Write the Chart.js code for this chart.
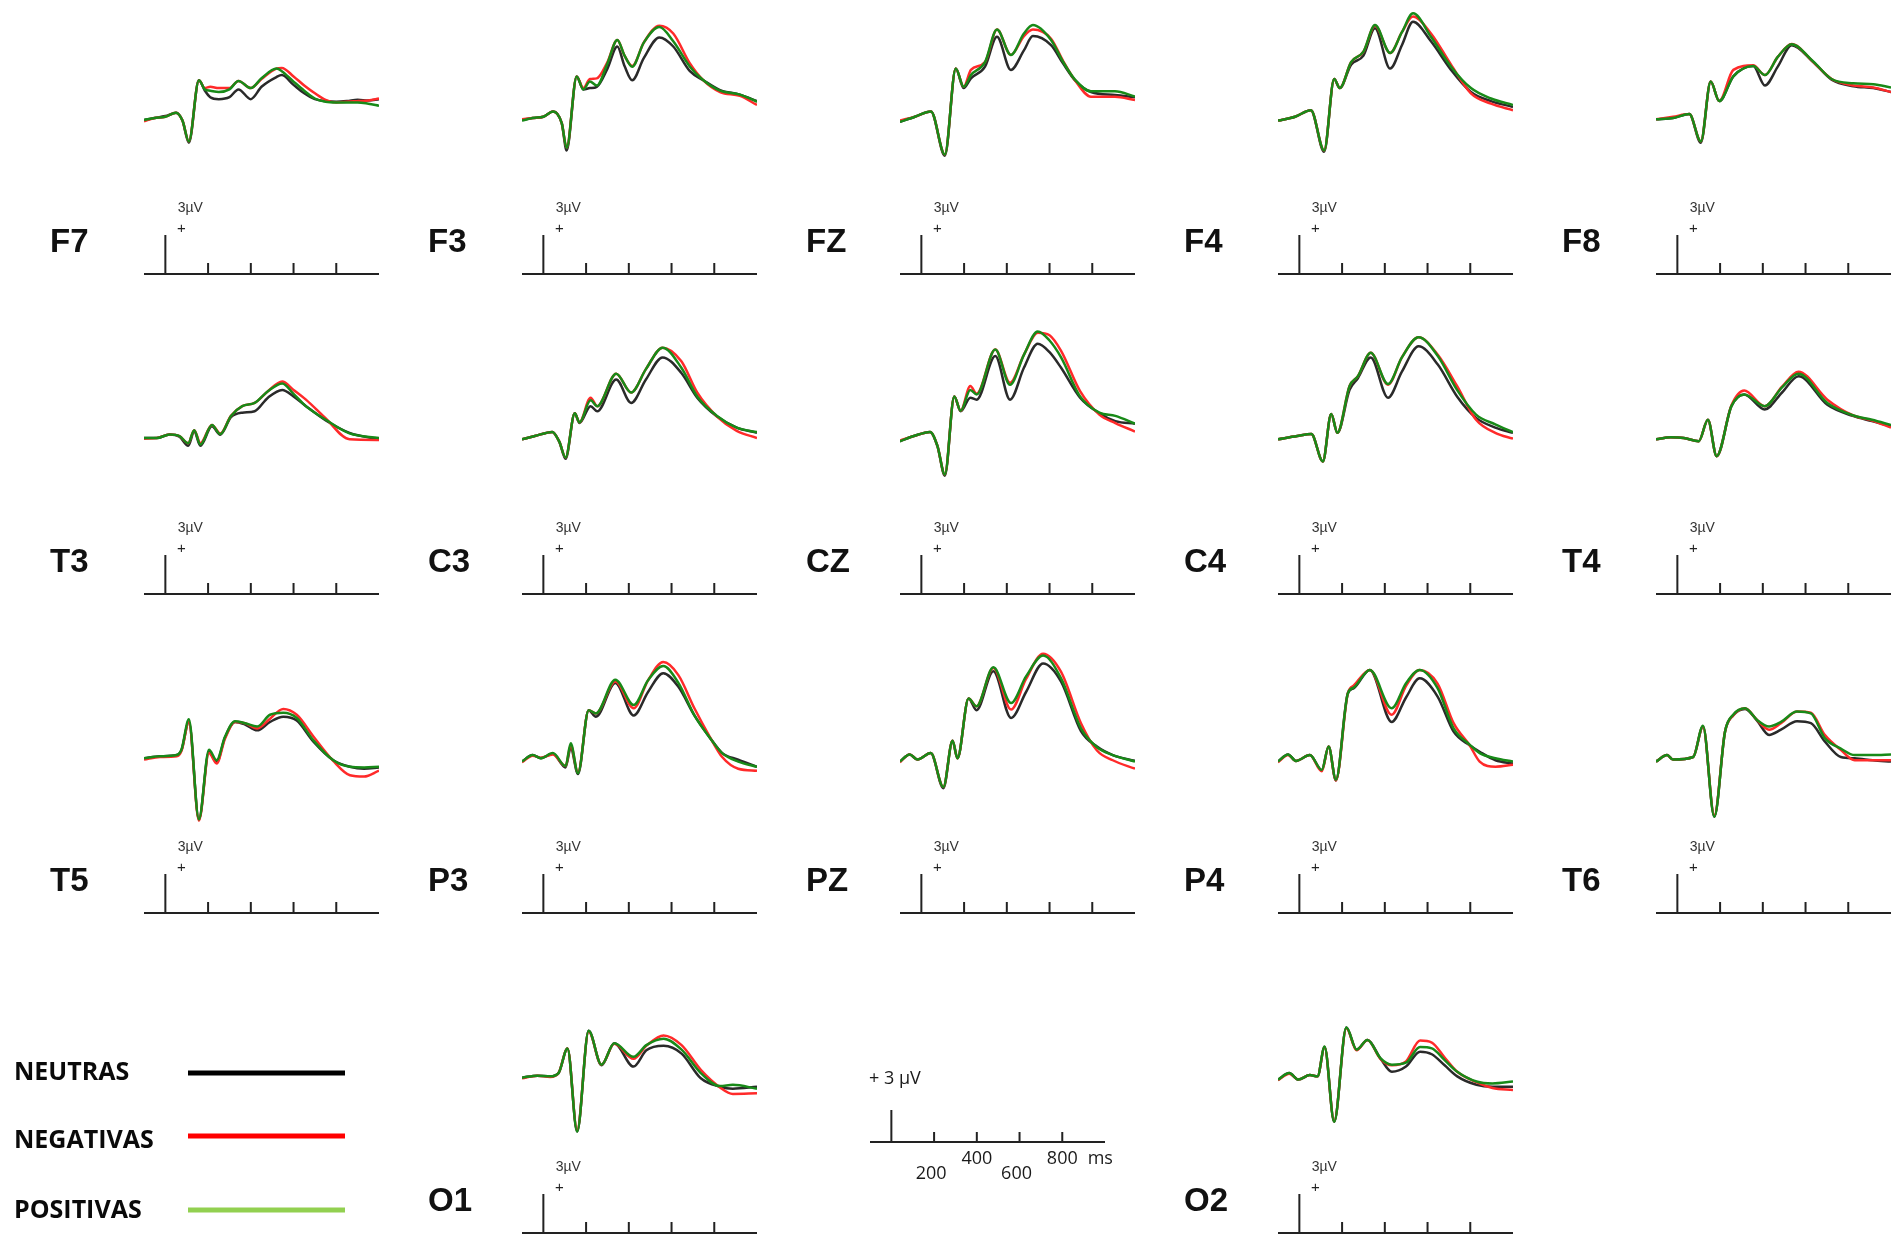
<!DOCTYPE html>
<html>
<head>
<meta charset="utf-8">
<title>ERP por condición</title>
<script src="https://cdn.jsdelivr.net/npm/chart.js@4.4.1/dist/chart.umd.min.js"></script>
<style>
  html, body { margin: 0; padding: 0; background: #fff; }
  body { position: relative; width: 1896px; height: 1237px; overflow: hidden; }
  canvas { position: absolute; }
</style>
</head>
<body>
<script>
// Grand-average waveforms (µV) per electrode; time in ms relative to stimulus onset.
const F7_ms        = [-100, -50, 0, 50, 80, 110, 157, 185, 210, 250, 300, 342, 400, 450, 520, 545, 600, 650, 700, 750, 800, 850, 900, 950, 1000];
const F7_neutras   = [-0.15, 0.0, 0.15, 0.4, -0.2, -1.9, 2.9, 2.1, 1.6, 1.45, 1.6, 2.2, 1.45, 2.4, 3.15, 3.3, 2.55, 1.9, 1.45, 1.3, 1.25, 1.3, 1.4, 1.35, 1.45];
const F7_negativas = [-0.25, 0.0, 0.1, 0.4, -0.2, -1.8, 2.9, 2.3, 2.4, 2.3, 2.3, 2.85, 2.3, 3.0, 3.8, 3.85, 3.2, 2.5, 1.9, 1.4, 1.2, 1.25, 1.3, 1.35, 1.5];
const F7_positivas = [-0.15, 0.0, 0.1, 0.4, -0.2, -1.8, 2.9, 2.2, 2.1, 2.0, 2.2, 2.85, 2.3, 3.05, 3.8, 3.6, 2.8, 2.1, 1.5, 1.25, 1.2, 1.2, 1.2, 1.1, 0.95];

const F3_ms        = [-100, -50, 0, 46, 86, 109, 156, 187, 218, 250, 300, 346, 380, 416, 470, 543, 608, 686, 749, 827, 920, 1000];
const F3_neutras   = [-0.15, 0.0, 0.1, 0.5, -0.4, -2.5, 3.2, 2.2, 2.3, 2.4, 3.8, 5.5, 4.0, 2.9, 4.6, 6.2, 5.5, 3.6, 2.9, 2.15, 1.8, 1.3];
const F3_negativas = [-0.1, 0.0, 0.1, 0.5, -0.4, -2.3, 3.2, 2.3, 3.0, 3.05, 4.3, 6.0, 4.8, 4.0, 5.8, 7.1, 6.5, 4.2, 2.9, 2.0, 1.7, 1.0];
const F3_positivas = [-0.2, 0.0, 0.1, 0.5, -0.4, -2.3, 3.2, 2.2, 2.8, 2.5, 4.2, 6.0, 4.8, 3.95, 5.8, 7.0, 5.9, 3.95, 2.9, 2.1, 1.8, 1.25];

const FZ_ms        = [-100, -30, 45, 110, 161, 198, 232, 298, 354, 419, 480, 522, 607, 663, 719, 794, 906, 1000];
const FZ_neutras   = [-0.3, 0.1, 0.5, -2.9, 3.8, 2.3, 3.05, 3.95, 6.25, 3.7, 5.2, 6.3, 5.6, 4.2, 2.9, 2.0, 1.77, 1.6];
const FZ_negativas = [-0.2, 0.1, 0.5, -2.8, 3.8, 2.4, 3.7, 4.3, 6.8, 4.85, 6.3, 6.8, 6.1, 4.4, 2.9, 1.64, 1.64, 1.38];
const FZ_positivas = [-0.3, 0.1, 0.5, -2.8, 3.8, 2.4, 3.3, 4.3, 6.8, 4.85, 6.5, 7.15, 6.0, 4.33, 2.95, 2.05, 2.05, 1.65];

const F4_ms        = [-100, -20, 54, 116, 163, 189, 242, 300, 354, 425, 480, 532, 616, 710, 803, 897, 1000];
const F4_neutras   = [-0.2, 0.1, 0.6, -2.6, 3.0, 2.3, 4.1, 4.8, 6.9, 3.8, 5.6, 7.4, 5.9, 3.7, 2.0, 1.3, 0.85];
const F4_negativas = [-0.2, 0.1, 0.6, -2.5, 3.0, 2.3, 4.3, 5.1, 7.1, 5.0, 6.6, 7.8, 6.5, 4.1, 1.9, 1.1, 0.6];
const F4_positivas = [-0.2, 0.1, 0.6, -2.5, 3.0, 2.3, 4.3, 5.1, 7.15, 5.0, 6.6, 8.05, 6.25, 3.95, 2.3, 1.5, 1.0];

const F8_ms        = [-100, -20, 56, 110, 156, 196, 262, 355, 410, 470, 535, 636, 722, 824, 917, 1000];
const F8_neutras   = [-0.1, 0.0, 0.3, -1.9, 2.8, 1.3, 3.2, 4.0, 2.5, 3.95, 5.6, 4.3, 2.95, 2.45, 2.3, 2.0];
const F8_negativas = [-0.1, 0.1, 0.3, -1.8, 2.8, 1.3, 3.7, 4.05, 3.3, 4.7, 5.7, 4.3, 3.0, 2.5, 2.35, 2.0];
const F8_positivas = [-0.1, 0.0, 0.3, -1.8, 2.8, 1.3, 3.2, 4.0, 3.3, 4.7, 5.67, 4.35, 3.0, 2.67, 2.6, 2.35];

const T3_ms        = [-100, -40, 20, 66, 107, 135, 164, 218, 257, 307, 360, 418, 480, 547, 600, 658, 751, 862, 1000];
const T3_neutras   = [0.0, 0.0, 0.27, 0.1, -0.6, 0.5, -0.6, 0.9, 0.25, 1.6, 1.95, 2.06, 3.1, 3.7, 3.2, 2.45, 1.35, 0.4, -0.1];
const T3_negativas = [-0.05, 0.0, 0.27, 0.15, -0.4, 0.6, -0.4, 1.0, 0.35, 1.7, 2.45, 2.7, 3.6, 4.35, 3.7, 2.95, 1.5, -0.1, -0.15];
const T3_positivas = [0.0, 0.0, 0.27, 0.15, -0.4, 0.6, -0.5, 1.0, 0.3, 1.7, 2.45, 2.7, 3.6, 4.2, 3.4, 2.45, 1.4, 0.35, 0.0];

const C3_ms        = [-100, -40, 42, 75, 104, 147, 169, 221, 252, 341, 411, 480, 558, 646, 720, 813, 905, 1000];
const C3_neutras   = [-0.1, 0.15, 0.47, -0.3, -1.6, 1.9, 1.15, 2.45, 2.05, 4.5, 2.7, 4.5, 6.2, 5.0, 3.1, 1.65, 0.8, 0.4];
const C3_negativas = [-0.1, 0.15, 0.47, -0.3, -1.5, 1.9, 1.2, 3.1, 2.45, 4.95, 3.5, 5.3, 6.95, 5.9, 3.5, 1.65, 0.55, 0.0];
const C3_positivas = [-0.1, 0.15, 0.47, -0.3, -1.5, 1.9, 1.2, 2.9, 2.45, 4.95, 3.5, 5.3, 6.95, 5.4, 3.2, 1.7, 0.8, 0.45];

const CZ_ms        = [-100, -35, 41, 75, 110, 154, 184, 229, 259, 346, 415, 480, 545, 600, 654, 743, 833, 908, 1000];
const CZ_neutras   = [-0.25, 0.15, 0.47, -0.6, -2.9, 3.2, 2.05, 3.1, 2.95, 6.3, 2.95, 5.4, 7.25, 6.6, 5.4, 3.1, 1.9, 1.3, 1.1];
const CZ_negativas = [-0.2, 0.15, 0.47, -0.6, -2.8, 3.2, 2.1, 4.0, 3.4, 6.8, 4.25, 6.4, 8.1, 7.9, 6.7, 3.6, 1.8, 1.15, 0.5];
const CZ_positivas = [-0.25, 0.15, 0.47, -0.6, -2.8, 3.2, 2.1, 3.7, 3.35, 6.8, 4.1, 6.4, 8.2, 7.5, 6.2, 3.2, 1.95, 1.7, 1.1];

const C4_ms        = [-100, -10, 56, 110, 149, 178, 235, 274, 334, 415, 480, 558, 648, 738, 827, 917, 1000];
const C4_neutras   = [-0.1, 0.15, 0.3, -1.8, 1.85, 0.4, 3.7, 4.6, 6.2, 3.1, 5.1, 7.05, 5.65, 3.2, 1.55, 0.8, 0.4];
const C4_negativas = [-0.1, 0.15, 0.3, -1.8, 1.85, 0.4, 4.0, 4.75, 6.55, 4.1, 6.2, 7.75, 6.4, 4.0, 1.4, 0.4, -0.05];
const C4_positivas = [-0.1, 0.15, 0.3, -1.8, 1.85, 0.4, 4.0, 4.75, 6.55, 4.15, 6.2, 7.75, 6.3, 3.7, 1.8, 1.05, 0.45];

const T4_ms        = [-100, -30, 30, 100, 143, 184, 253, 313, 409, 490, 567, 702, 821, 911, 1000];
const T4_neutras   = [-0.1, 0.05, 0.0, -0.25, 1.4, -1.4, 2.45, 3.35, 2.2, 3.5, 4.75, 2.55, 1.7, 1.3, 0.9];
const T4_negativas = [-0.1, 0.05, 0.0, -0.25, 1.4, -1.4, 2.5, 3.65, 2.45, 3.95, 5.1, 2.95, 1.75, 1.35, 0.8];
const T4_positivas = [-0.1, 0.05, 0.0, -0.25, 1.4, -1.4, 2.45, 3.35, 2.45, 3.9, 4.95, 2.7, 1.75, 1.4, 1.0];

const T5_ms        = [-100, -25, 53, 76, 110, 157, 204, 240, 279, 326, 373, 430, 490, 552, 615, 692, 786, 864, 930, 1000];
const T5_neutras   = [-0.1, 0.05, 0.15, 0.55, 2.7, -4.8, 0.4, -0.4, 1.5, 2.7, 2.5, 2.05, 2.7, 3.1, 2.8, 1.2, -0.25, -0.75, -0.9, -0.8];
const T5_negativas = [-0.2, 0.0, 0.05, 0.5, 2.7, -4.9, 0.3, -0.5, 1.4, 2.7, 2.6, 2.2, 2.95, 3.7, 3.25, 1.6, -0.3, -1.4, -1.5, -1.05];
const T5_positivas = [-0.1, 0.05, 0.15, 0.6, 2.9, -4.8, 0.55, -0.25, 1.55, 2.75, 2.6, 2.35, 3.25, 3.4, 3.0, 1.3, -0.25, -0.75, -0.8, -0.75];

const P3_ms        = [-100, -50, -12, 44, 104, 128, 162, 212, 246, 337, 423, 490, 561, 632, 707, 781, 837, 912, 1000];
const P3_neutras   = [-0.35, 0.15, -0.1, 0.25, -0.8, 0.7, -1.3, 3.6, 3.1, 5.7, 3.2, 5.0, 6.45, 5.4, 3.2, 1.45, 0.3, -0.2, -0.75];
const P3_negativas = [-0.4, 0.1, -0.05, 0.2, -0.7, 0.9, -1.2, 3.6, 3.35, 5.8, 3.75, 5.9, 7.3, 6.3, 3.75, 1.5, 0.0, -0.9, -1.05];
const P3_positivas = [-0.35, 0.15, -0.1, 0.3, -0.7, 1.05, -1.25, 3.6, 3.35, 5.95, 4.0, 5.9, 7.0, 5.7, 3.2, 1.45, 0.3, -0.35, -0.75];

const PZ_ms        = [-100, -55, -18, 44, 103, 146, 169, 221, 258, 337, 420, 490, 570, 654, 747, 822, 896, 1000];
const PZ_neutras   = [-0.35, 0.2, -0.2, 0.3, -2.4, 1.25, -0.1, 4.5, 3.6, 6.6, 3.0, 5.0, 7.2, 5.8, 2.0, 0.8, 0.15, -0.3];
const PZ_negativas = [-0.4, 0.2, -0.2, 0.3, -2.3, 1.25, -0.1, 4.5, 3.9, 6.85, 3.65, 6.0, 7.95, 6.55, 2.6, 0.5, -0.25, -0.9];
const PZ_positivas = [-0.35, 0.2, -0.2, 0.3, -2.3, 1.25, -0.1, 4.5, 3.9, 6.9, 4.15, 6.2, 7.8, 6.05, 2.2, 0.75, 0.15, -0.35];

const P4_ms        = [-100, -53, -16, 49, 105, 137, 171, 227, 255, 330, 432, 500, 563, 647, 722, 797, 844, 918, 1000];
const P4_neutras   = [-0.35, 0.2, -0.3, 0.15, -1.0, 0.8, -1.8, 4.9, 5.3, 6.7, 2.7, 4.6, 6.05, 4.65, 1.95, 0.9, 0.4, -0.25, -0.5];
const P4_negativas = [-0.4, 0.15, -0.3, 0.15, -1.1, 0.8, -1.8, 4.9, 5.5, 6.7, 3.25, 5.5, 6.7, 5.65, 2.6, 0.9, -0.35, -0.75, -0.6];
const P4_positivas = [-0.35, 0.2, -0.3, 0.15, -1.0, 0.8, -1.75, 4.9, 5.35, 6.7, 3.75, 5.7, 6.7, 5.3, 2.2, 0.95, 0.3, -0.1, -0.35];

const T6_ms        = [-100, -48, -20, 74, 120, 173, 223, 261, 317, 373, 429, 485, 560, 625, 690, 765, 830, 915, 1000];
const T6_neutras   = [-0.35, 0.15, -0.2, 0.0, 2.35, -4.6, 1.95, 3.2, 3.7, 2.8, 1.7, 2.1, 2.75, 2.6, 1.2, 0.0, -0.1, -0.25, -0.35];
const T6_negativas = [-0.35, 0.15, -0.2, 0.0, 2.35, -4.5, 1.95, 3.2, 3.75, 2.85, 2.1, 2.6, 3.5, 3.4, 1.7, 0.55, -0.25, -0.25, -0.25];
const T6_positivas = [-0.35, 0.15, -0.2, 0.0, 2.4, -4.6, 1.95, 3.25, 3.75, 2.85, 2.35, 2.7, 3.5, 3.35, 1.45, 0.65, 0.15, 0.15, 0.2];

const O1_ms        = [-100, -28, 32, 71, 113, 158, 212, 272, 332, 422, 482, 563, 647, 737, 827, 887, 1000];
const O1_neutras   = [-0.05, 0.1, 0.05, 0.3, 2.2, -4.2, 3.55, 0.9, 2.6, 0.8, 2.05, 2.4, 1.8, -0.1, -0.75, -0.9, -0.75];
const O1_negativas = [-0.1, 0.1, 0.0, 0.3, 2.2, -4.1, 3.5, 0.95, 2.55, 1.4, 2.4, 3.2, 2.45, 0.55, -0.8, -1.3, -1.25];
const O1_positivas = [-0.05, 0.1, 0.05, 0.3, 2.2, -4.2, 3.55, 0.95, 2.6, 1.55, 2.45, 2.95, 2.1, 0.3, -0.7, -0.6, -0.9];

const O2_ms        = [-100, -47, -5, 49, 85, 118, 163, 220, 268, 319, 379, 433, 499, 565, 620, 680, 739, 829, 904, 1000];
const O2_neutras   = [-0.2, 0.3, -0.2, 0.15, 0.05, 2.3, -3.45, 3.8, 2.1, 2.85, 1.45, 0.4, 0.8, 1.95, 1.75, 0.9, 0.05, -0.6, -0.75, -0.75];
const O2_negativas = [-0.25, 0.25, -0.2, 0.15, 0.05, 2.3, -3.4, 3.75, 2.05, 2.85, 1.4, 0.9, 1.2, 2.8, 2.65, 1.5, 0.4, -0.4, -0.85, -1.0];
const O2_positivas = [-0.2, 0.3, -0.2, 0.15, 0.05, 2.35, -3.45, 3.8, 2.1, 2.85, 1.45, 0.95, 1.1, 2.3, 2.2, 1.3, 0.4, -0.35, -0.5, -0.35];

// Conditions and calibration marks
const conditionNames  = ['NEUTRAS', 'NEGATIVAS', 'POSITIVAS'];
const timeTicks       = [200, 400, 600, 800];
const calibrationUV   = 3;
const calibrationText = '3\u00b5V';
const scaleBarText    = '+ 3 \u00b5V';
const scaleBarUnit    = 'ms';

// Layout of the montage (grid column / row of each electrode)
const electrodes = [
  { name: 'F7', col: 0, row: 0, ms: F7_ms, v: [F7_neutras, F7_negativas, F7_positivas] },
  { name: 'F3', col: 1, row: 0, ms: F3_ms, v: [F3_neutras, F3_negativas, F3_positivas] },
  { name: 'FZ', col: 2, row: 0, ms: FZ_ms, v: [FZ_neutras, FZ_negativas, FZ_positivas] },
  { name: 'F4', col: 3, row: 0, ms: F4_ms, v: [F4_neutras, F4_negativas, F4_positivas] },
  { name: 'F8', col: 4, row: 0, ms: F8_ms, v: [F8_neutras, F8_negativas, F8_positivas] },
  { name: 'T3', col: 0, row: 1, ms: T3_ms, v: [T3_neutras, T3_negativas, T3_positivas] },
  { name: 'C3', col: 1, row: 1, ms: C3_ms, v: [C3_neutras, C3_negativas, C3_positivas] },
  { name: 'CZ', col: 2, row: 1, ms: CZ_ms, v: [CZ_neutras, CZ_negativas, CZ_positivas] },
  { name: 'C4', col: 3, row: 1, ms: C4_ms, v: [C4_neutras, C4_negativas, C4_positivas] },
  { name: 'T4', col: 4, row: 1, ms: T4_ms, v: [T4_neutras, T4_negativas, T4_positivas] },
  { name: 'T5', col: 0, row: 2, ms: T5_ms, v: [T5_neutras, T5_negativas, T5_positivas] },
  { name: 'P3', col: 1, row: 2, ms: P3_ms, v: [P3_neutras, P3_negativas, P3_positivas] },
  { name: 'PZ', col: 2, row: 2, ms: PZ_ms, v: [PZ_neutras, PZ_negativas, PZ_positivas] },
  { name: 'P4', col: 3, row: 2, ms: P4_ms, v: [P4_neutras, P4_negativas, P4_positivas] },
  { name: 'T6', col: 4, row: 2, ms: T6_ms, v: [T6_neutras, T6_negativas, T6_positivas] },
  { name: 'O1', col: 1, row: 3, ms: O1_ms, v: [O1_neutras, O1_negativas, O1_positivas] },
  { name: 'O2', col: 3, row: 3, ms: O2_ms, v: [O2_neutras, O2_negativas, O2_positivas] }
];

// ---- styling / geometry ----
const TRACE_COLORS  = ['#2a2a2a', '#ff2a2a', '#188a18'];
const LEGEND_COLORS = ['#000000', '#ff0000', '#92d050'];
const TRACE_ORDER   = [2, 1, 0];           // green on top, then red, then black
const COL_LEFT      = [144, 522, 900, 1278, 1656];
const ROW_AXIS      = [274, 594, 913, 1233];
const X_MIN = -100, X_MAX = 1000;
const Y_MIN = -12, Y_MAX = 9;
const PX_PER_UV = 13;
const PLOT_W = 235;
const PLOT_H = (Y_MAX - Y_MIN) * PX_PER_UV;
const PAD = { left: 104, right: 6, top: 4, bottom: 8 };
const AXIS_COLOR = '#222';

Chart.defaults.animation = false;

// Draws the time axis, the calibration bar, the ticks and the electrode name
const panelFrame = {
  id: 'panelFrame',
  afterDatasetsDraw(chart, args, opts) {
    const { ctx, scales: { x, y } } = chart;
    const y0 = y.getPixelForValue(Y_MIN);
    const xb = x.getPixelForValue(0);
    ctx.save();
    ctx.strokeStyle = AXIS_COLOR;
    ctx.lineWidth = 2;
    ctx.beginPath();
    ctx.moveTo(x.getPixelForValue(X_MIN), y0);
    ctx.lineTo(x.getPixelForValue(X_MAX), y0);
    ctx.moveTo(xb, y0);
    ctx.lineTo(xb, y.getPixelForValue(Y_MIN + calibrationUV));
    timeTicks.forEach(t => {
      const xt = x.getPixelForValue(t);
      ctx.moveTo(xt, y0);
      ctx.lineTo(xt, y0 - 11);
    });
    ctx.stroke();

    ctx.fillStyle = '#333';
    ctx.textAlign = 'center';
    ctx.textBaseline = 'alphabetic';
    ctx.font = '14px "Liberation Sans", Arial, sans-serif';
    ctx.fillText(calibrationText, xb + 25, y0 - 62);
    ctx.font = '15px "Liberation Sans", Arial, sans-serif';
    ctx.textBaseline = 'middle';
    ctx.fillStyle = '#222';
    ctx.fillText('+', xb + 16, y0 - 45);

    ctx.fillStyle = '#111';
    ctx.textAlign = 'left';
    ctx.textBaseline = 'alphabetic';
    ctx.font = 'bold 33px "Liberation Sans", Arial, sans-serif';
    ctx.fillText(opts.label, 10, y0 - 22);
    ctx.restore();
  }
};

function makeCanvas(left, top, w, h) {
  const c = document.createElement('canvas');
  c.width = w; c.height = h;
  c.style.left = left + 'px';
  c.style.top = top + 'px';
  c.style.width = w + 'px';
  c.style.height = h + 'px';
  document.body.appendChild(c);
  return c;
}

electrodes.forEach(e => {
  const axisY = ROW_AXIS[e.row];
  const left = COL_LEFT[e.col] - PAD.left;
  const top = axisY - PLOT_H - PAD.top;
  const canvas = makeCanvas(left, top, PAD.left + PLOT_W + PAD.right, PAD.top + PLOT_H + PAD.bottom);
  new Chart(canvas, {
    type: 'line',
    data: {
      datasets: conditionNames.map((name, k) => ({
        label: name,
        data: e.ms.map((t, i) => ({ x: t, y: e.v[k][i] })),
        borderColor: TRACE_COLORS[k],
        order: TRACE_ORDER[k]
      }))
    },
    options: {
      responsive: false,
      events: [],
      layout: { padding: PAD },
      elements: {
        point: { radius: 0 },
        line: { borderWidth: 2.5, cubicInterpolationMode: 'monotone', fill: false }
      },
      plugins: {
        legend: { display: false },
        tooltip: { enabled: false },
        panelFrame: { label: e.name }
      },
      scales: {
        x: { type: 'linear', min: X_MIN, max: X_MAX, display: false },
        y: { type: 'linear', min: Y_MIN, max: Y_MAX, display: false }
      }
    },
    plugins: [panelFrame]
  });
});

// ---- stand-alone time / amplitude scale ----
const SCALE_AXIS_Y = 1142, SCALE_LEFT = 870;
const SCALE_PX_PER_UV = 32 / calibrationUV;
const SCALE_H = 9 * SCALE_PX_PER_UV;
const SPAD = { left: 4, right: 20, top: 4, bottom: 45 };

const scaleFrame = {
  id: 'scaleFrame',
  afterDraw(chart) {
    const { ctx, scales: { x, y } } = chart;
    const y0 = y.getPixelForValue(0);
    const xb = x.getPixelForValue(0);
    ctx.save();
    ctx.strokeStyle = AXIS_COLOR;
    ctx.lineWidth = 2;
    ctx.beginPath();
    ctx.moveTo(x.getPixelForValue(X_MIN), y0);
    ctx.lineTo(x.getPixelForValue(X_MAX), y0);
    ctx.moveTo(xb, y0);
    ctx.lineTo(xb, y.getPixelForValue(calibrationUV));
    timeTicks.forEach(t => {
      const xt = x.getPixelForValue(t);
      ctx.moveTo(xt, y0);
      ctx.lineTo(xt, y0 - 10);
    });
    ctx.stroke();

    ctx.fillStyle = '#1a1a1a';
    ctx.font = '18px "Open Sans", "Liberation Sans", sans-serif';
    ctx.textBaseline = 'alphabetic';
    ctx.textAlign = 'left';
    ctx.fillText(scaleBarText, x.getPixelForValue(X_MIN) - 1, y0 - 58);
    ctx.textAlign = 'center';
    timeTicks.forEach((t, i) => {
      const xt = x.getPixelForValue(t) - (i % 2 === 0 ? 3 : 0);
      ctx.fillText(String(t), xt, y0 + (i % 2 === 0 ? 37 : 22));
    });
    ctx.fillText(scaleBarUnit, x.getPixelForValue(timeTicks[timeTicks.length - 1]) + 38, y0 + 22);
    ctx.restore();
  }
};

{
  const canvas = makeCanvas(SCALE_LEFT - SPAD.left, SCALE_AXIS_Y - SCALE_H - SPAD.top,
                            SPAD.left + PLOT_W + SPAD.right, SPAD.top + SCALE_H + SPAD.bottom);
  new Chart(canvas, {
    type: 'line',
    data: { datasets: [] },
    options: {
      responsive: false,
      events: [],
      layout: { padding: SPAD },
      plugins: { legend: { display: false }, tooltip: { enabled: false } },
      scales: {
        x: { type: 'linear', min: X_MIN, max: X_MAX, display: false },
        y: { type: 'linear', min: 0, max: 9, display: false }
      }
    },
    plugins: [scaleFrame]
  });
}

// ---- condition key ----
{
  const c = makeCanvas(0, 1040, 400, 197);
  const ctx = c.getContext('2d');
  const textBase = [40, 108, 178];
  const lineY = [33, 96, 170];
  ctx.font = 'bold 25px "Open Sans", "Liberation Sans", sans-serif';
  ctx.textBaseline = 'alphabetic';
  conditionNames.forEach((name, k) => {
    ctx.fillStyle = '#0a0a0a';
    ctx.fillText(name, 14, textBase[k]);
    ctx.strokeStyle = LEGEND_COLORS[k];
    ctx.lineWidth = 5;
    ctx.beginPath();
    ctx.moveTo(188, lineY[k]);
    ctx.lineTo(345, lineY[k]);
    ctx.stroke();
  });
}
</script>
</body>
</html>
